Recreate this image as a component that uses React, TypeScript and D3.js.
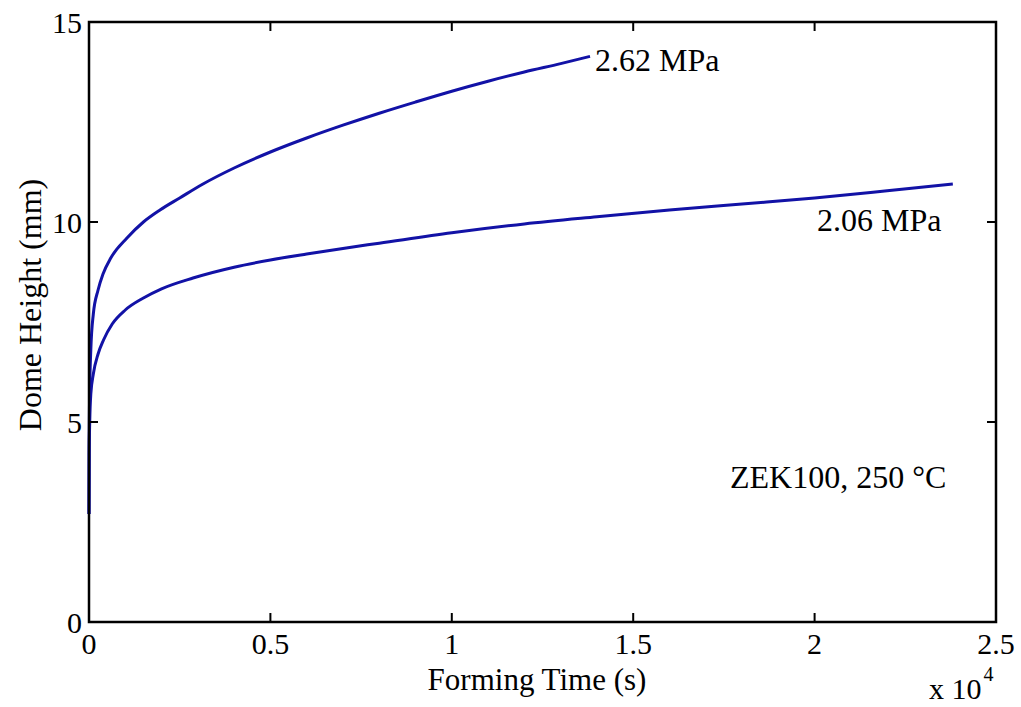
import React from "react";
import * as d3 from "d3";

const xTicks = [0, 0.5, 1, 1.5, 2, 2.5];
const xTickLabels = ["0", "0.5", "1", "1.5", "2", "2.5"];
const yTicks = [0, 5, 10, 15];
const yTickLabels = ["0", "5", "10", "15"];

// time in units of 1e4 s, dome height in mm
const t262 = [0, 0.0005, 0.002, 0.005, 0.0119, 0.025, 0.0386, 0.06, 0.1047, 0.15, 0.1957, 0.25, 0.3142, 0.4, 0.5, 0.6, 0.7, 0.8, 0.9, 1.0, 1.1, 1.2, 1.3, 1.381];
const h262 = [2.7, 4.5, 5.8, 6.8, 7.7, 8.3, 8.7, 9.1, 9.6, 10.0, 10.3, 10.6, 10.95, 11.35, 11.75, 12.1, 12.42, 12.72, 13.0, 13.27, 13.52, 13.75, 13.96, 14.14];

const t206 = [0, 0.0005, 0.002, 0.005, 0.0119, 0.025, 0.04, 0.064, 0.1, 0.15, 0.2, 0.2867, 0.4, 0.5, 0.6, 0.7, 0.8, 1.0, 1.2, 1.4, 1.6, 1.8, 2.0, 2.2, 2.381];
const h206 = [2.7, 4.2, 5.0, 5.7, 6.2, 6.7, 7.05, 7.45, 7.8, 8.1, 8.33, 8.6, 8.87, 9.05, 9.2, 9.34, 9.47, 9.73, 9.95, 10.13, 10.3, 10.45, 10.6, 10.78, 10.95];

const W = 1021;
const H = 707;
const left = 89, right = 996, top = 22, bottom = 622;
const font = "Times, 'Liberation Serif', serif";
const blue = "#1212a6";

export default function App() {
  const x = d3.scaleLinear().domain([0, 2.5]).range([left, right]);
  const y = d3.scaleLinear().domain([0, 15]).range([bottom, top]);
  const line = d3.line<[number, number]>().x((d) => x(d[0])).y((d) => y(d[1])).curve(d3.curveMonotoneX);
  const s1 = t262.map((t, i) => [t, h262[i]] as [number, number]);
  const s2 = t206.map((t, i) => [t, h206[i]] as [number, number]);
  const tl = 9;
  const ts = { fontFamily: font, fontSize: 30 };
  const ls = { fontFamily: font, fontSize: 32 };
  return (
    <svg width={W} height={H} style={{ position: "absolute", left: 0, top: 0, background: "#fff" }}>
      <rect x={0} y={0} width={W} height={H} fill="#fff" />
      <path d={line(s2) || ""} fill="none" stroke={blue} strokeWidth={3} />
      <path d={line(s1) || ""} fill="none" stroke={blue} strokeWidth={3} />
      <rect x={left} y={top} width={right - left} height={bottom - top} fill="none" stroke="#000" strokeWidth={2.5} />
      {xTicks.map((v, i) => (
        <g key={"x" + i}>
          <line x1={x(v)} x2={x(v)} y1={bottom} y2={bottom - tl} stroke="#000" strokeWidth={2} />
          <line x1={x(v)} x2={x(v)} y1={top} y2={top + tl} stroke="#000" strokeWidth={2} />
          <text x={x(v)} y={654} textAnchor="middle" style={ts}>{xTickLabels[i]}</text>
        </g>
      ))}
      {yTicks.map((v, i) => (
        <g key={"y" + i}>
          <line x1={left} x2={left + tl} y1={y(v)} y2={y(v)} stroke="#000" strokeWidth={2} />
          <line x1={right} x2={right - tl} y1={y(v)} y2={y(v)} stroke="#000" strokeWidth={2} />
          <text x={82} y={y(v) + 11} textAnchor="end" style={ts}>{yTickLabels[i]}</text>
        </g>
      ))}
      <text x={929} y={699} style={ts}>
        x 10<tspan dx={2} dy={-18} style={{ fontSize: 20 }}>4</tspan>
      </text>
      <text x={537} y={690} textAnchor="middle" style={{ fontFamily: font, fontSize: 31 }}>Forming Time (s)</text>
      <text transform={`translate(41,${305}) rotate(-90)`} textAnchor="middle" style={ls}>Dome Height (mm)</text>
      <text x={595} y={71} style={ls}>2.62 MPa</text>
      <text x={817} y={231} style={ls}>2.06 MPa</text>
      <text x={730} y={488} style={ls}>ZEK100, 250 °C</text>
    </svg>
  );
}
